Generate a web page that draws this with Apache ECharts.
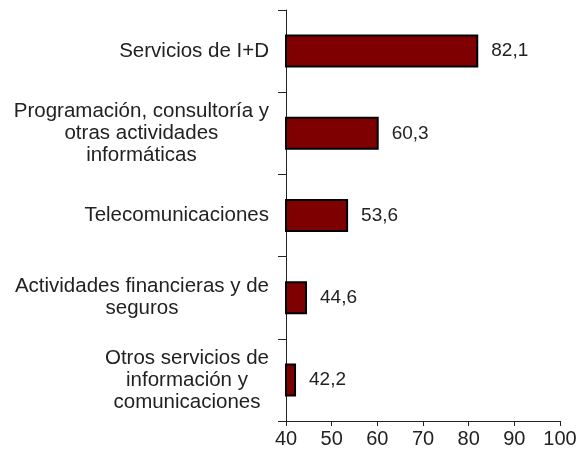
<!DOCTYPE html>
<html>
<head>
<meta charset="utf-8">
<script src="https://cdn.jsdelivr.net/npm/echarts@6/dist/echarts.min.js"></script>
<style>
  html, body { margin: 0; padding: 0; background: #fff; }
  #chart { width: 587px; height: 450px; }
</style>
</head>
<body>
<div id="chart"></div>
<script>
// categories, top to bottom
var categories = [
  'Servicios de I+D',
  'Programación, consultoría y\notras actividades\ninformáticas',
  'Telecomunicaciones',
  'Actividades financieras y de\nseguros',
  'Otros servicios de\ninformación y\ncomunicaciones'
]
var values = [82.1, 60.3, 53.6, 44.6, 42.2]
var xTicks = [40, 50, 60, 70, 80, 90, 100]

var font = "'Liberation Sans', Arial, sans-serif"
var chart = echarts.init(document.getElementById('chart'))

chart.setOption({
  animation: false,
  grid: { left: 286, right: 27, top: 10, bottom: 29 },
  xAxis: {
    type: 'value',
    min: xTicks[0],
    max: xTicks[xTicks.length - 1],
    interval: 10,
    axisLine: { show: true, lineStyle: { color: '#222', width: 1 } },
    axisTick: { show: true, length: 5, lineStyle: { color: '#222' } },
    axisLabel: { color: '#222', fontSize: 20, fontFamily: font, margin: 8 },
    splitLine: { show: false }
  },
  yAxis: {
    type: 'category',
    inverse: true,
    data: categories,
    axisLine: { show: true, lineStyle: { color: '#222', width: 1 } },
    axisTick: { show: true, length: 8, lineStyle: { color: '#222' } },
    axisLabel: {
      color: '#222',
      fontSize: 20.5,
      fontFamily: font,
      margin: 17,
      formatter: function (v) {
        return v.split('\n').map(function (s) { return '{c|' + s + '}' }).join('\n')
      },
      rich: {
        c: { align: 'center', fontSize: 20.5, fontFamily: font, color: '#222', lineHeight: 22 }
      }
    }
  },
  series: [
    {
      type: 'bar',
      data: values,
      barWidth: 33,
      itemStyle: { color: '#7f0000', borderColor: '#000', borderWidth: 2 },
      label: {
        show: true,
        position: 'right',
        distance: 13,
        color: '#222',
        fontSize: 19,
        fontFamily: font,
        formatter: function (p) { return p.value.toFixed(1).replace('.', ',') }
      }
    }
  ]
})
</script>
</body>
</html>
